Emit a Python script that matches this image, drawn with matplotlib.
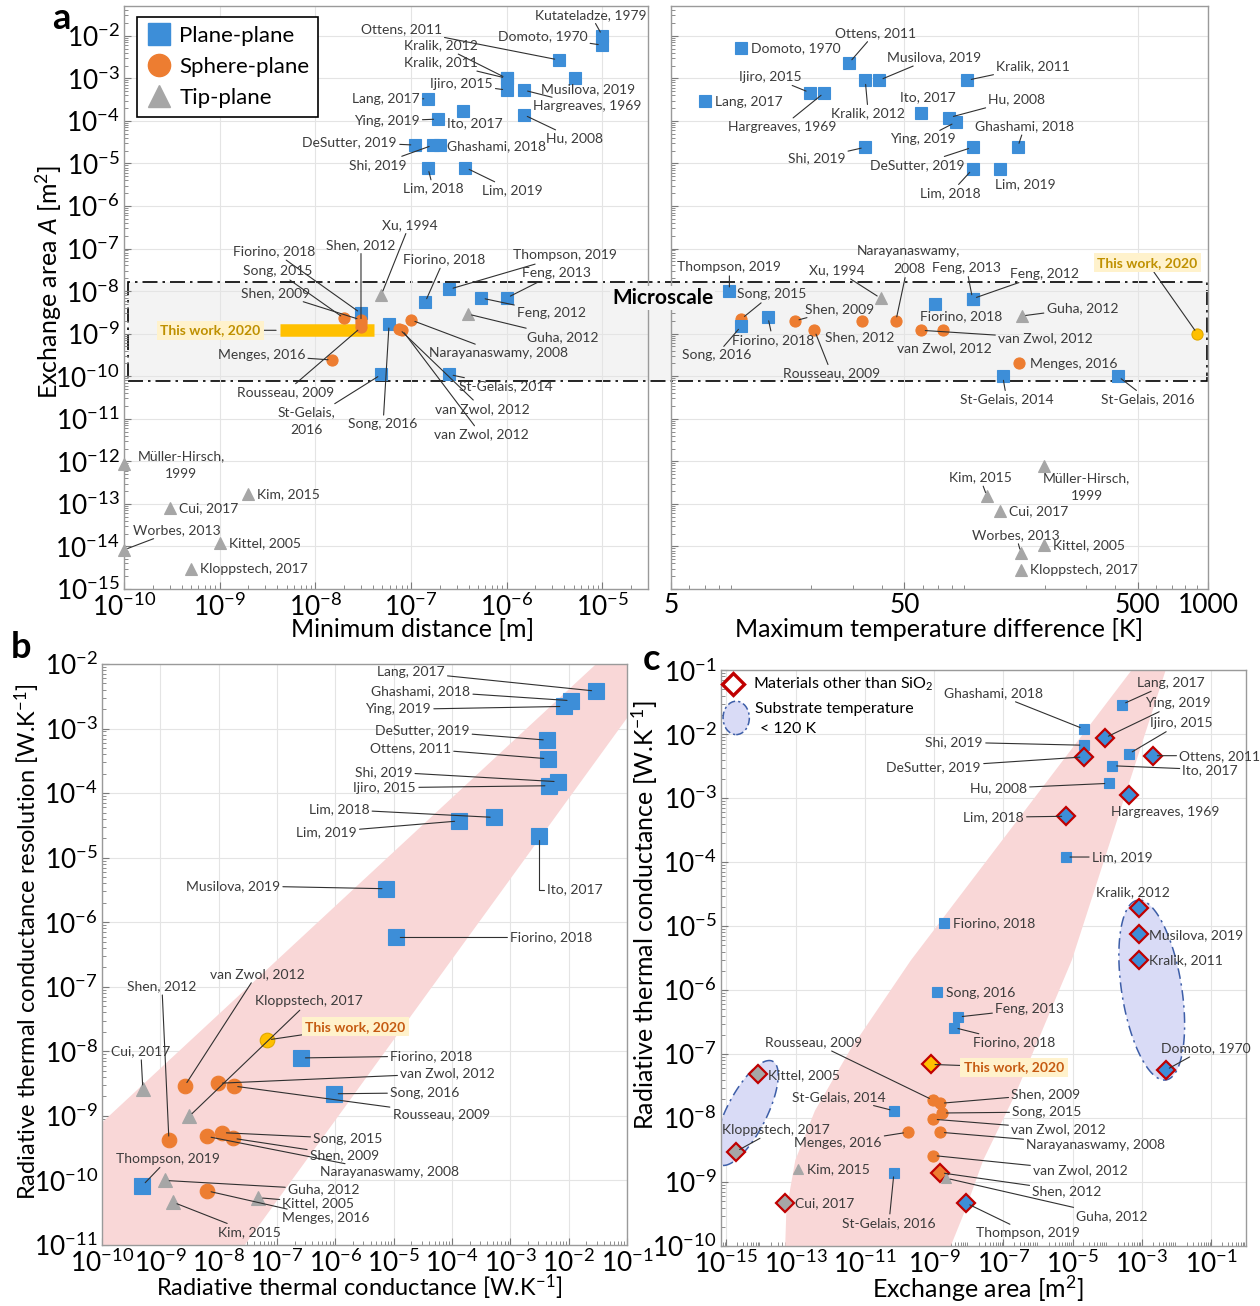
import numpy as np
import matplotlib
matplotlib.use('Agg')
import matplotlib.pyplot as plt
import matplotlib.transforms as mtransforms
from matplotlib.lines import Line2D
from matplotlib.patches import Polygon, Rectangle, Ellipse
from matplotlib.ticker import LogLocator, FixedLocator, FixedFormatter, NullFormatter, LogFormatterSciNotation

plt.rcParams['font.family'] = ['Lato', 'DejaVu Sans']
plt.rcParams['mathtext.fontset'] = 'custom'
plt.rcParams['mathtext.rm'] = 'Lato'
plt.rcParams['mathtext.it'] = 'Lato:italic'
plt.rcParams['mathtext.bf'] = 'Lato:bold'
plt.rcParams['axes.unicode_minus'] = False

BLUE = '#3d8ed8'
ORANGE = '#ed7d31'
GREY = '#a6a6a6'
YELLOW = '#ffc000'
RED = '#c00000'
TXT = '#3b3b3b'
LEAD = '#303030'

# ---------------- panel a (left): minimum distance vs exchange area ----------------
a_names = ["Kutateladze, 1979", "Domoto, 1970", "Ottens, 2011", "Kralik, 2012", "Kralik, 2011",
           "Ijiro, 2015", "Musilova, 2019", "Hargreaves, 1969", "Hu, 2008", "Lang, 2017",
           "Ito, 2017", "Ying, 2019", "DeSutter, 2019", "Shi, 2019", "Ghashami, 2018",
           "Lim, 2018", "Lim, 2019", "Xu, 1994", "Fiorino, 2018", "Shen, 2012",
           "Song, 2015", "Shen, 2009", "Menges, 2016", "Rousseau, 2009", "St-Gelais,\n2016",
           "Song, 2016", "Fiorino, 2018", "Thompson, 2019", "Feng, 2013", "Feng, 2012",
           "Guha, 2012", "Narayanaswamy, 2008", "St-Gelais, 2014", "van Zwol, 2012", "van Zwol, 2012",
           "Müller-Hirsch,\n1999", "Kim, 2015", "Cui, 2017", "Worbes, 2013", "Kittel, 2005",
           "Kloppstech, 2017"]
a_dist = [1e-5, 1e-5, 3.5e-6, 1e-6, 1e-6,
          1e-6, 5.2e-6, 1.5e-6, 1.5e-6, 1.5e-7,
          3.5e-7, 1.9e-7, 1.1e-7, 1.7e-7, 2e-7,
          1.5e-7, 3.7e-7, 4.9e-8, 3e-8, 3e-8,
          2e-8, 3e-8, 1.5e-8, 3e-8, 4.9e-8,
          5.9e-8, 1.4e-7, 2.5e-7, 1e-6, 5.4e-7,
          3.9e-7, 1e-7, 2.5e-7, 7.5e-8, 8e-8,
          1e-10, 2e-9, 3e-10, 1e-10, 1e-9,
          5e-10]
a_area = [1e-2, 6e-3, 2.7e-3, 1e-3, 1e-3,
          5.3e-4, 1e-3, 5.3e-4, 1.4e-4, 3.3e-4,
          1.7e-4, 1.1e-4, 2.7e-5, 2.7e-5, 2.7e-5,
          8e-6, 8e-6, 8.2e-9, 3e-9, 1.8e-9,
          2.3e-9, 2.1e-9, 2.4e-10, 1.4e-9, 1.1e-10,
          1.7e-9, 5.4e-9, 1.1e-8, 6.9e-9, 6.9e-9,
          2.9e-9, 2.1e-9, 1.1e-10, 1.3e-9, 1.25e-9,
          8.5e-13, 1.7e-13, 7.8e-14, 8.3e-15, 1.2e-14,
          3e-15]
a_kind = ['p'] * 17 + ['t', 'p', 's', 's', 's', 's', 's', 'p', 'p', 'p', 'p', 'p', 'p',
                       't', 's', 'p', 's', 's', 't', 't', 't', 't', 't', 't']
# this work: range of distances at one exchange area
tw_dist = [4.3e-9, 4.1e-8]
tw_area = 1.2e-9

# ---------------- panel a (right): max temperature difference ----------------
r_names = ["Domoto, 1970", "Ottens, 2011", "Musilova, 2019", "Kralik, 2011", "Ijiro, 2015",
           "Lang, 2017", "Hargreaves, 1969", "Kralik, 2012", "Ito, 2017", "Hu, 2008",
           "Ghashami, 2018", "Ying, 2019", "Shi, 2019", "DeSutter, 2019", "Lim, 2018",
           "Lim, 2019", "Thompson, 2019", "Song, 2015", "Song, 2016", "Fiorino, 2018",
           "Shen, 2009", "Shen, 2012", "Rousseau, 2009", "Narayanaswamy,\n2008", "Xu, 1994",
           "Feng, 2013", "Feng, 2012", "Fiorino, 2018", "Guha, 2012", "van Zwol, 2012",
           "van Zwol, 2012", "Menges, 2016", "St-Gelais, 2014", "St-Gelais, 2016", "Müller-Hirsch,\n1999",
           "Kim, 2015", "Cui, 2017", "Worbes, 2013", "Kittel, 2005", "Kloppstech, 2017",
           "This work, 2020"]
r_dT = [10, 29, 39, 93, 19.7,
        7, 22.7, 34, 59, 78,
        153, 83, 34, 98, 98,
        129, 8.9, 10, 10, 13,
        17, 33, 20.6, 46, 39.6,
        98, 98, 68, 159, 59,
        73, 155, 132, 411, 198,
        113, 129, 158, 198, 158,
        900]
r_area = [5.2e-3, 2.3e-3, 9e-4, 9e-4, 4.6e-4,
          2.9e-4, 4.6e-4, 9e-4, 1.5e-4, 1.2e-4,
          2.4e-5, 9.3e-5, 2.4e-5, 2.4e-5, 7.3e-6,
          7.3e-6, 1e-8, 2.2e-9, 1.5e-9, 2.5e-9,
          2e-9, 2e-9, 1.2e-9, 2e-9, 6.8e-9,
          6.6e-9, 6.6e-9, 5e-9, 2.6e-9, 1.2e-9,
          1.2e-9, 2.1e-10, 1e-10, 1e-10, 7.6e-13,
          1.5e-13, 6.9e-14, 7e-15, 1.1e-14, 2.8e-15,
          1e-9]
r_kind = ['p'] * 17 + ['s', 'p', 'p', 's', 's', 's', 's', 't', 'p', 'p', 'p', 't', 's',
                       's', 's', 'p', 'p', 't', 't', 't', 't', 't', 't', 'w']

# ---------------- panel b: conductance vs resolution ----------------
b_names = ["Lang, 2017", "Ghashami, 2018", "Ying, 2019", "DeSutter, 2019", "Ottens, 2011",
           "Shi, 2019", "Ijiro, 2015", "Lim, 2018", "Lim, 2019", "Ito, 2017",
           "Musilova, 2019", "Fiorino, 2018", "This work, 2020", "Fiorino, 2018", "Song, 2016",
           "Cui, 2017", "van Zwol, 2012", "van Zwol, 2012", "Rousseau, 2009", "Kloppstech, 2017",
           "Shen, 2012", "Song, 2015", "Shen, 2009", "Narayanaswamy, 2008", "Thompson, 2019",
           "Guha, 2012", "Kittel, 2005", "Menges, 2016", "Kim, 2015"]
b_G = [2.9e-2, 1.1e-2, 8.3e-3, 4.3e-3, 4.4e-3,
       6.6e-3, 4.6e-3, 5.3e-4, 1.3e-4, 3.1e-3,
       7.4e-6, 1.1e-5, 6.8e-8, 2.6e-7, 9.5e-7,
       5e-10, 2.6e-9, 9.8e-9, 1.8e-8, 3.1e-9,
       1.4e-9, 1.15e-8, 1.75e-8, 6.3e-9, 4.9e-10,
       1.2e-9, 4.8e-8, 6.3e-9, 1.65e-9]
b_res = [3.8e-3, 2.7e-3, 2.2e-3, 6.6e-4, 3.4e-4,
         1.5e-4, 1.3e-4, 4.2e-5, 3.7e-5, 2.2e-5,
         3.3e-6, 5.8e-7, 1.5e-8, 7.9e-9, 2.2e-9,
         2.6e-9, 2.9e-9, 3.2e-9, 2.9e-9, 9.8e-10,
         4.2e-10, 5.5e-10, 4.5e-10, 4.8e-10, 8.3e-11,
         1e-10, 5.4e-11, 6.9e-11, 4.6e-11]
b_kind = ['p'] * 12 + ['w', 'p', 'p', 't', 's', 's', 's', 't', 's', 's', 's', 's', 'p',
                       't', 't', 's', 't']
b_band_x = [1e-10, 2.95e-2, 1e-1, 1e-1, 2.8e-8, 1e-10]
b_band_y = [7.9e-10, 1e-2, 1e-2, 1.46e-3, 1e-11, 1e-11]

# ---------------- panel c: exchange area vs conductance ----------------
c_names = ["Lang, 2017", "Ghashami, 2018", "Ying, 2019", "Ijiro, 2015", "Shi, 2019",
           "Ottens, 2011", "DeSutter, 2019", "Ito, 2017", "Hu, 2008", "Hargreaves, 1969",
           "Lim, 2018", "Lim, 2019", "Kralik, 2012", "Fiorino, 2018", "Musilova, 2019",
           "Kralik, 2011", "Song, 2016", "Feng, 2013", "Fiorino, 2018", "This work, 2020",
           "Domoto, 1970", "Kittel, 2005", "Rousseau, 2009", "Shen, 2009", "St-Gelais, 2014",
           "Song, 2015", "van Zwol, 2012", "Menges, 2016", "Narayanaswamy, 2008", "Kloppstech, 2017",
           "van Zwol, 2012", "Kim, 2015", "Shen, 2012", "St-Gelais, 2016", "Guha, 2012",
           "Cui, 2017", "Thompson, 2019"]
c_area = [2.6e-4, 2.1e-5, 8.3e-5, 4.1e-4, 2.1e-5,
          2.1e-3, 2.1e-5, 1.4e-4, 1.1e-4, 4.1e-4,
          6.3e-6, 6.3e-6, 7.9e-4, 1.9e-9, 7.9e-4,
          7.9e-4, 1.2e-9, 4.9e-9, 3.7e-9, 8e-10,
          4.8e-3, 8.3e-15, 9.3e-10, 1.5e-9, 6.9e-11,
          1.7e-9, 9.3e-10, 1.7e-10, 1.5e-9, 1.9e-15,
          9.3e-10, 1.2e-13, 1.5e-9, 6.9e-11, 2.2e-9,
          5e-14, 8.3e-9]
c_G = [2.9e-2, 1.2e-2, 8.7e-3, 4.9e-3, 6.7e-3,
       4.6e-3, 4.4e-3, 3.2e-3, 1.7e-3, 1.1e-3,
       5.2e-4, 1.2e-4, 1.9e-5, 1.1e-5, 7.4e-6,
       3e-6, 9.3e-7, 3.8e-7, 2.6e-7, 6.9e-8,
       5.6e-8, 4.9e-8, 1.9e-8, 1.7e-8, 1.3e-8,
       1.2e-8, 9.6e-9, 6e-9, 6e-9, 3e-9,
       2.6e-9, 1.6e-9, 1.4e-9, 1.4e-9, 1.15e-9,
       4.7e-10, 4.7e-10]
c_kind = ['p', 'p', 'pd', 'p', 'p',
          'pd', 'pd', 'p', 'p', 'pd',
          'pd', 'p', 'pd', 'p', 'pd',
          'pd', 'p', 'p', 'p', 'wd',
          'pd', 'td', 's', 's', 'p',
          's', 's', 's', 's', 'td',
          's', 't', 'sd', 'p', 't',
          'td', 'pd']
c_band_x = [5.0e-4, 2.1e-10, 3.7e-12, 3.6e-13, 9.8e-14, 5.4e-14, 5.0e-14,
            3.0e-9, 7.8e-9, 2.6e-8, 2.3e-7, 9.3e-6, 4.8e-3]
c_band_y = [0.1, 2.9e-6, 1.15e-7, 1.3e-8, 2.2e-9, 3.6e-10, 1e-10,
            1e-10, 3.6e-10, 2.2e-9, 2.5e-8, 2.9e-6, 0.1]
# low substrate temperature groups (centre area, centre conductance)
cold_area = [3.8e-15, 1.9e-3]
cold_G = [1.2e-8, 1e-6]

# ---------------- label placement (pixel offsets from the point) ----------------
a_place = [(44, 21, 'right', 1), (-15, 9, 'right', 1), (-117, 31, 'right', 1), (-29, 33, 'right', 1),
           (-29, 16, 'right', 1), (-14, 6, 'right', 1), (-34, -11, 'left', 0), (9, -16, 'left', 1),
           (22, -24, 'left', 1), (-8, 0, 'right', 1), (-16, -12, 'left', 0), (-18, -2, 'right', 1),
           (-18, 3, 'right', 1), (-27, -20, 'right', 1), (7, -1, 'left', 0), (-25, -21, 'left', 1),
           (17, -23, 'left', 1), (28, 70, 'center', 1), (-46, 62, 'right', 1), (0, 78, 'center', 1),
           (-32, 47, 'right', 1), (-51, 27, 'right', 1), (-27, 5, 'right', 1), (-27, -65, 'right', 1),
           (-75, -47, 'center', 1), (-6, -100, 'center', 1), (19, 43, 'center', 1), (64, 34, 'left', 1),
           (15, 25, 'left', 1), (36, -15, 'left', 1), (59, -23, 'left', 1), (18, -33, 'left', 1),
           (10, -12, 'left', 1), (36, -80, 'left', 1), (32, -105, 'left', 1), (57, -1, 'center', 0),
           (9, 0, 'left', 0), (9, 0, 'left', 0), (9, 20, 'left', 1), (9, 0, 'left', 0), (9, 0, 'left', 0)]
r_place = [(10, 0, 'left', 0), (26, 30, 'center', 1), (55, 23, 'center', 1), (29, 14, 'left', 1),
           (-8, 16, 'right', 1), (10, -1, 'left', 0), (-42, -34, 'center', 1), (3, -33, 'center', 1),
           (7, 16, 'center', 0), (39, 18, 'left', 1), (7, 21, 'center', 1), (-33, -17, 'center', 1),
           (-20, -11, 'right', 1), (-55, -18, 'center', 1), (-22, -24, 'center', 1), (-5, -15, 'left', 0),
           (0, 24, 'center', 1), (-4, 25, 'left', 1), (-25, -29, 'center', 1), (5, -23, 'center', 1),
           (10, 12, 'left', 1), (-3, -16, 'center', 0), (17, -43, 'center', 1), (13, 61, 'center', 1),
           (-16, 28, 'right', 1), (-6, 31, 'center', 1), (37, 25, 'left', 1), (-15, -12, 'left', 0),
           (25, 8, 'left', 1), (77, -8, 'left', 1), (2, -18, 'center', 0), (11, -1, 'left', 0),
           (4, -23, 'center', 1), (30, -23, 'center', 1), (43, -21, 'center', 0), (-7, 19, 'center', 1),
           (9, 0, 'left', 0), (-5, 18, 'center', 1), (9, 0, 'left', 0), (9, 0, 'left', 0),
           (-50, 71, 'center', 1)]
b_place = [(-151, 19, 'right', 1), (-101, 10, 'right', 1), (-133, -3, 'right', 1), (-78, 10, 'right', 1),
           (-97, 11, 'right', 1), (-146, 10, 'right', 1), (-133, -2, 'right', 1), (-125, 8, 'right', 1),
           (-102, -11, 'right', 1), (8, -54, 'left', 'elbow'), (-106, 3, 'right', 1), (114, 0, 'left', 1),
           (38, 13, 'left', 1), (89, 2, 'left', 1), (56, 1, 'left', 1), (-2, 38, 'center', 1),
           (25, 112, 'left', 1), (182, 10, 'left', 1), (159, -28, 'left', 1), (66, 115, 'left', 1),
           (-7, 154, 'center', 1), (91, -6, 'left', 1), (77, -17, 'left', 1), (113, -36, 'left', 1),
           (26, 27, 'center', 1), (123, -9, 'left', 1), (24, -5, 'left', 1), (75, -27, 'left', 1),
           (45, -30, 'left', 1)]
c_place = [(15, 22, 'left', 1), (-41, 36, 'right', 1), (40, 35, 'left', 1), (21, 31, 'left', 1),
           (-101, 3, 'right', 1), (26, 0, 'left', 1), (-103, -10, 'right', 1), (70, -4, 'left', 1),
           (-82, -5, 'right', 1), (-18, -17, 'left', 0), (-42, -1, 'right', 1), (26, 0, 'left', 1),
           (-6, 16, 'center', 0), (9, 0, 'left', 0), (10, -1, 'left', 0), (10, -1, 'left', 0),
           (9, -1, 'left', 0), (37, 8, 'left', 1), (19, -15, 'left', 1), (33, -3, 'left', 1),
           (-5, 22, 'left', 1), (10, -1, 'left', 0), (-71, 58, 'right', 1), (71, 9, 'left', 1),
           (-8, 14, 'right', 1), (70, 1, 'left', 1), (78, -10, 'left', 1), (-26, -11, 'right', 1),
           (86, -13, 'left', 1), (-14, 22, 'left', 1), (100, -15, 'left', 1), (9, 0, 'left', 0),
           (92, -18, 'left', 1), (-5, -50, 'center', 1), (130, -38, 'left', 1), (10, 0, 'left', 0),
           (62, -30, 'center', 1)]


def draw_points(ax, xs, ys, kinds, ms):
    for x, y, k in zip(xs, ys, kinds):
        face = {'p': BLUE, 's': ORANGE, 't': GREY, 'w': YELLOW}[k[0]]
        if k.endswith('d'):
            ax.plot(x, y, marker='D', ms=ms['D'], mfc=face, mec=RED, mew=1.6,
                    ls='none', zorder=4, clip_on=False)
        else:
            mk = {'p': 's', 's': 'o', 't': '^', 'w': 'o'}[k[0]]
            ec = '#e0a800' if k[0] == 'w' else face
            ax.plot(x, y, marker=mk, ms=ms[mk], mfc=face, mec=ec, mew=0.8,
                    ls='none', zorder=4, clip_on=False)


def label_points(ax, names, xs, ys, places, tw_color, fs=10):
    for name, x, y, (dx, dy, ha, lead) in zip(names, xs, ys, places):
        ap = None
        if lead:
            ap = dict(arrowstyle='-', color=LEAD, lw=0.8, shrinkA=0, shrinkB=3)
            if lead == 'elbow':
                ap.update(connectionstyle='angle,angleA=0,angleB=90,rad=0', relpos=(0, 0.5))
        kw = dict(color=TXT)
        if name.startswith('This work'):
            kw = dict(color=tw_color, fontweight='bold',
                      bbox=dict(boxstyle='square,pad=0.25', fc='#fff2cc', ec='none'))
        ax.annotate(name, (x, y), xytext=(dx, dy), textcoords='offset pixels', ha=ha,
                    va='center', multialignment='center', linespacing=1.6, fontsize=fs,
                    arrowprops=ap, zorder=5, annotation_clip=False, **kw)


def style_axes(ax):
    ax.set_axisbelow(True)
    ax.grid(True, which='major', color='#e4e4e4', lw=0.8)
    ax.tick_params(which='both', direction='in', top=False, right=False,
                   color='#7a7a7a', labelsize=19, pad=3)
    ax.tick_params(which='major', length=5)
    ax.tick_params(which='minor', length=3)
    for s in ax.spines.values():
        s.set_color('#9a9a9a')
        s.set_linewidth(1.0)


def log_ticks(axis, majors=None):
    if majors is None:
        axis.set_major_locator(LogLocator(base=10, numticks=40))
    else:
        axis.set_major_locator(FixedLocator(majors))
    axis.set_major_formatter(LogFormatterSciNotation())
    axis.set_minor_locator(LogLocator(base=10, subs=np.arange(2, 10), numticks=200))
    axis.set_minor_formatter(NullFormatter())


fig = plt.figure(figsize=(12.6, 13.06), dpi=100)

axL = fig.add_axes([0.0984, 0.549, 0.4159, 0.4464])
axR = fig.add_axes([0.5325, 0.549, 0.4262, 0.4464])
axB = fig.add_axes([0.0810, 0.0467, 0.4167, 0.4449])
axC = fig.add_axes([0.5722, 0.0459, 0.4167, 0.4410])

for ax in (axL, axR, axB, axC):
    ax.set_xscale('log')
    ax.set_yscale('log')
    style_axes(ax)

# ---- panel a left
axL.set_facecolor('none')
axL.set_xlim(1e-10, 3e-5)
axL.set_ylim(1e-15, 5e-2)
log_ticks(axL.xaxis)
log_ticks(axL.yaxis)
draw_points(axL, a_dist, a_area, a_kind, {'s': 8, 'o': 8, '^': 8, 'D': 8})
axL.plot(tw_dist, [tw_area, tw_area], color=YELLOW, lw=9, solid_capstyle='butt', zorder=3)
label_points(axL, a_names, a_dist, a_area, a_place, '#bf9000')
label_points(axL, ["This work, 2020"], [tw_dist[0]], [tw_area], [(-20, 0, 'right', 1)], '#bf9000')
axL.set_xlabel('Minimum distance [m]', fontsize=18)
axL.xaxis.set_label_coords(0.55, -0.05)
axL.set_ylabel('Exchange area $A$ [m$^2$]', fontsize=18)
axL.yaxis.set_label_coords(-0.115, 0.527)
handles = [Line2D([], [], marker='s', ls='none', ms=16, mfc=BLUE, mec=BLUE),
           Line2D([], [], marker='o', ls='none', ms=16, mfc=ORANGE, mec=ORANGE),
           Line2D([], [], marker='^', ls='none', ms=16, mfc=GREY, mec=GREY)]
leg = axL.legend(handles, ['Plane-plane', 'Sphere-plane', 'Tip-plane'], loc='upper left',
                 bbox_to_anchor=(0.025, 0.981), fontsize=16, fancybox=False, edgecolor='black',
                 framealpha=1, borderaxespad=0, handletextpad=0.3, labelspacing=0.5,
                 borderpad=0.4, handlelength=1.2)
leg.get_frame().set_linewidth(1.2)
leg.set_zorder(6)

# ---- panel a right
axR.set_facecolor('none')
axR.set_xlim(5, 1000)
axR.set_ylim(1e-15, 5e-2)
axR.xaxis.set_major_locator(FixedLocator([5, 50, 500, 1000]))
axR.xaxis.set_major_formatter(FixedFormatter(['5', '50', '500', '1000']))
axR.xaxis.set_minor_locator(LogLocator(base=10, subs=np.arange(2, 10), numticks=50))
axR.xaxis.set_minor_formatter(NullFormatter())
log_ticks(axR.yaxis)
axR.yaxis.set_major_formatter(NullFormatter())
draw_points(axR, r_dT, r_area, r_kind, {'s': 8, 'o': 8, '^': 8, 'D': 8})
label_points(axR, r_names, r_dT, r_area, r_place, '#bf9000')
axR.set_xlabel('Maximum temperature difference [K]', fontsize=18)
axR.xaxis.set_label_coords(0.50, -0.05)

# microscale band spanning both panels
bt = mtransforms.blended_transform_factory(fig.transFigure, axL.transData)
x0f, x1f = 128 / 1260, 1207 / 1260
band = Rectangle((x0f, 7.6e-11), x1f - x0f, 1.6e-8 - 7.6e-11, transform=bt,
                 facecolor='#f3f3f3', edgecolor='black', lw=1.2,
                 linestyle=(0, (9, 3, 1.5, 3)), zorder=-1)
fig.add_artist(band)
fig.text(0.526, 6.9e-9, 'Microscale', transform=bt, ha='center', va='center',
         fontsize=15, fontweight='bold', zorder=5,
         bbox=dict(boxstyle='square,pad=0.1', fc='#f3f3f3', ec='none'))

# ---- panel b
axB.set_xlim(1e-10, 1e-1)
axB.set_ylim(1e-11, 1e-2)
log_ticks(axB.xaxis)
log_ticks(axB.yaxis)
axB.add_patch(Polygon(np.column_stack([b_band_x, b_band_y]), closed=True,
                      fc='#f9d7d7', ec='none', zorder=1))
draw_points(axB, b_G, b_res, b_kind, {'s': 11, 'o': 10.5, '^': 10, 'D': 10})
label_points(axB, b_names, b_G, b_res, b_place, '#c55a11')
axB.set_xlabel('Radiative thermal conductance [W.K$^{-1}$]', fontsize=17)
axB.xaxis.set_label_coords(0.49, -0.047)
axB.set_ylabel('Radiative thermal conductance resolution [W.K$^{-1}$]', fontsize=17)
axB.yaxis.set_label_coords(-0.114, 0.522)

# ---- panel c
axC.set_xlim(7e-16, 1)
axC.set_ylim(1e-10, 1e-1)
log_ticks(axC.xaxis, [10.0 ** e for e in range(-15, 0, 2)])
log_ticks(axC.yaxis)
axC.add_patch(Polygon(np.column_stack([c_band_x, c_band_y]), closed=True,
                      fc='#f9d7d7', ec='none', zorder=1))


def ellipse_patch(ax, cx, cy, a, b, ang):
    t = np.linspace(0, 2 * np.pi, 120)
    c = ax.transData.transform((cx, cy))
    th = np.deg2rad(ang)
    px = c[0] + a * np.cos(t) * np.cos(th) - b * np.sin(t) * np.sin(th)
    py = c[1] + a * np.cos(t) * np.sin(th) + b * np.sin(t) * np.cos(th)
    pts = ax.transData.inverted().transform(np.column_stack([px, py]))
    ax.add_patch(Polygon(pts, closed=True, fc='#d9dbf6', ec='#3d5ea8', lw=1.1,
                         ls=(0, (7, 3, 1.5, 3)), zorder=2))


ellipse_patch(axC, cold_area[0], cold_G[0], 58, 20, 63)
ellipse_patch(axC, cold_area[1], cold_G[1], 91, 30, 99)

draw_points(axC, c_area, c_G, c_kind, {'s': 6.5, 'o': 8, '^': 7, 'D': 9.5})
label_points(axC, c_names, c_area, c_G, c_place, '#c55a11')
axC.set_xlabel('Exchange area [m$^2$]', fontsize=18)
axC.xaxis.set_label_coords(0.49, -0.047)
axC.set_ylabel('Radiative thermal conductance [W.K$^{-1}$]', fontsize=18)
axC.yaxis.set_label_coords(-0.116, 0.575)

# legend of panel c
axC.plot([0.023], [0.976], transform=axC.transAxes, marker='D', ms=11, mfc='white',
         mec=RED, mew=2.4, ls='none', clip_on=False, zorder=6)
axC.text(0.061, 0.976, 'Materials other than SiO$_2$', transform=axC.transAxes,
         fontsize=11.5, va='center', color='black')
axC.add_patch(Ellipse((0.029, 0.917), 0.05, 0.058, transform=axC.transAxes,
                      fc='#d9dbf6', ec='#3d5ea8', lw=1.1, ls=(0, (5, 2, 1.5, 2)), zorder=6))
axC.text(0.065, 0.932, 'Substrate temperature', transform=axC.transAxes,
         fontsize=11.5, va='center', color='black')
axC.text(0.074, 0.898, '< 120 K', transform=axC.transAxes,
         fontsize=11.5, va='center', color='black')

# panel letters
fig.text(0.049, 0.986, 'a', fontsize=26, fontweight='bold', ha='center', va='center')
fig.text(0.017, 0.504, 'b', fontsize=26, fontweight='bold', ha='center', va='center')
fig.text(0.517, 0.495, 'c', fontsize=26, fontweight='bold', ha='center', va='center')

fig.savefig('out.png', dpi=100)
